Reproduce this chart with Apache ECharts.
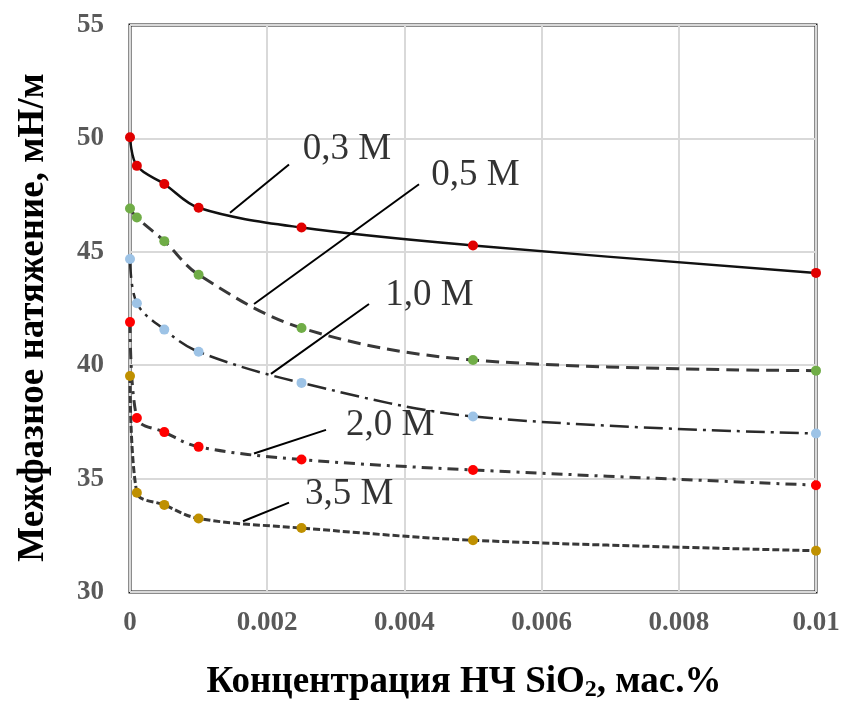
<!DOCTYPE html>
<html>
<head>
<meta charset="utf-8">
<script src="https://cdn.jsdelivr.net/npm/echarts@6/dist/echarts.min.js"></script>
<style>html,body{margin:0;padding:0;background:#fff}#c{width:843px;height:707px}</style>
</head>
<body>
<div id="c"></div>
<script>
// Concentration of SiO2 nanoparticles, wt.%
const xValues = [0, 0.0001, 0.0005, 0.001, 0.0025, 0.005, 0.01];
// Interfacial tension, mN/m
const s03 = [50.05, 48.79, 47.99, 46.94, 46.07, 45.28, 44.07];
const s05 = [46.91, 46.51, 45.47, 43.99, 41.64, 40.23, 39.76];
const s10 = [44.68, 42.73, 41.57, 40.59, 39.22, 37.74, 36.99];
const s20 = [41.90, 37.67, 37.05, 36.40, 35.84, 35.38, 34.71];
const s35 = [39.52, 34.38, 33.84, 33.24, 32.82, 32.28, 31.82];
const seriesNames = ['0,3 M', '0,5 M', '1,0 M', '2,0 M', '3,5 M'];
// annotation label anchors [x, y] and leader lines [[x1,y1],[x2,y2]] in data units
const labelAnchors = [[0.00252, 49.5], [0.00439, 48.37], [0.00372, 43.09], [0.00315, 37.37], [0.00255, 34.29]];
const leaderLines = [
  [[0.001458, 46.72], [0.002318, 48.85]],
  [[0.001808, 42.70], [0.004213, 47.98]],
  [[0.002055, 39.62], [0.003484, 42.70]],
  [[0.001808, 36.11], [0.002857, 37.15]],
  [[0.001647, 33.12], [0.002318, 33.94]]
];
const yTicks = {min: 30, max: 55, interval: 5};
const xTicks = {min: 0, max: 0.01, interval: 0.002};

const allSeries = [s03, s05, s10, s20, s35];
const markerColors = ['#e00000', '#70ad47', '#9dc3e6', '#ff0000', '#bf9000'];
const lineTypes = ['solid', [13, 7], [19, 6, 3, 6], [11, 6, 3, 6], [7, 3]];
const lineColors = ['#111', '#383838', '#2a2a2a', '#383838', '#383838'];
const lineWidths = [2.5, 3, 2.5, 3, 3];
const serif = 'Liberation Serif, Times New Roman, serif';

const chart = echarts.init(document.getElementById('c'), null, {renderer: 'canvas'});
const series = allSeries.map((vals, i) => ({
  name: seriesNames[i],
  type: 'line',
  data: xValues.map((x, j) => [x, vals[j]]),
  smooth: 0.35,
  symbol: 'circle',
  symbolSize: 10,
  showAllSymbol: true,
  itemStyle: {color: markerColors[i], borderWidth: 0},
  lineStyle: {color: lineColors[i], width: lineWidths[i], type: lineTypes[i]},
  z: 3
}));
series.push({
  type: 'lines',
  coordinateSystem: 'cartesian2d',
  data: leaderLines.map(c => ({coords: c})),
  lineStyle: {color: '#000', width: 2, opacity: 1},
  silent: true,
  z: 4
});
series.push({
  type: 'scatter',
  data: labelAnchors.map((p, i) => ({value: p, name: seriesNames[i]})),
  symbolSize: 0,
  label: {
    show: true, position: 'right', distance: 0,
    formatter: p => p.name,
    fontFamily: serif, fontSize: 37, color: '#000', verticalAlign: 'middle'
  },
  silent: true,
  z: 5
});

chart.setOption({
  animation: false,
  grid: {left: 130, right: 27, top: 25, bottom: 105, show: true, borderColor: '#1a1a1a', borderWidth: 3, backgroundColor: 'transparent'},
  xAxis: {
    type: 'value', min: xTicks.min, max: xTicks.max, interval: xTicks.interval,
    axisLine: {show: false}, axisTick: {show: false},
    splitLine: {show: true, lineStyle: {color: '#d9d9d9', width: 2}},
    axisLabel: {
      margin: 18, color: '#595959', fontFamily: serif, fontWeight: 'bold', fontSize: 27,
      formatter: v => String(+v.toFixed(4))
    },
    name: '{a|Концентрация НЧ SiO}{s|2}{a|, мас.%}',
    nameLocation: 'middle', nameGap: 70,
    nameTextStyle: {
      padding: [0, 18, 0, 0],
      rich: {
        a: {fontFamily: serif, fontWeight: 'bold', fontSize: 37, color: '#000'},
        s: {fontFamily: serif, fontWeight: 'bold', fontSize: 24, color: '#000', verticalAlign: 'bottom', padding: [16, 0, 0, 0]}
      }
    }
  },
  yAxis: {
    type: 'value', min: yTicks.min, max: yTicks.max, interval: yTicks.interval,
    axisLine: {show: false}, axisTick: {show: false},
    splitLine: {show: true, lineStyle: {color: '#d9d9d9', width: 2}},
    axisLabel: {margin: 26, color: '#595959', fontFamily: serif, fontWeight: 'bold', fontSize: 27},
    name: 'Межфазное натяжение, мН/м',
    nameLocation: 'middle', nameGap: 78,
    nameTextStyle: {fontFamily: serif, fontWeight: 'bold', fontSize: 37, color: '#000', padding: [0, 18, 0, 0]}
  },
  series: series
});
</script>
</body>
</html>
